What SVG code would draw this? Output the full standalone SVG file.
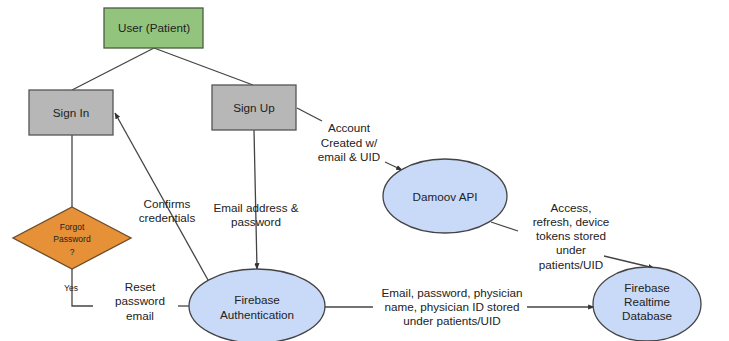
<svg xmlns="http://www.w3.org/2000/svg" width="729" height="341" viewBox="0 0 729 341">
<style>
text{font-family:"Liberation Sans",Arial,sans-serif;font-size:11.7px;fill:#222;text-anchor:middle}
.sm{font-size:8.5px}
.ln{stroke:#444;stroke-width:1.3;fill:none}
.el{fill:#c9daf8;stroke:#444;stroke-width:1.3}
.bx{fill:#b7b7b7;stroke:#555;stroke-width:1.3}
</style>
<defs>
<marker id="ah" viewBox="0 0 10 10" refX="9" refY="5" markerWidth="5" markerHeight="5" orient="auto">
<path d="M0,1 L10,5 L0,9 z" fill="#333"/>
</marker>
</defs>
<rect width="729" height="341" fill="#fff"/>
<g id="connectors">
<line class="ln" x1="154" y1="48" x2="72" y2="90"/>
<line class="ln" x1="154" y1="48" x2="253" y2="85"/>
<line class="ln" x1="72" y1="135" x2="72" y2="207"/>
<polyline class="ln" points="72,269 72,306 93,306"/>
<line class="ln" x1="178" y1="306" x2="190" y2="306"/>
<line class="ln" x1="208" y1="280" x2="115" y2="113" marker-end="url(#ah)"/>
<line class="ln" x1="254" y1="130" x2="257" y2="269" marker-end="url(#ah)"/>
<line class="ln" x1="297" y1="108" x2="322" y2="121"/>
<line class="ln" x1="385" y1="162" x2="402" y2="170" marker-end="url(#ah)"/>
<line class="ln" x1="491" y1="222" x2="518" y2="231"/>
<line class="ln" x1="604" y1="256" x2="654" y2="268" marker-end="url(#ah)"/>
<line class="ln" x1="325" y1="307" x2="373" y2="307"/>
<line class="ln" x1="527" y1="307" x2="594" y2="307" marker-end="url(#ah)"/>
<text x="140" y="291">Reset</text>
<text x="140" y="305">password</text>
<text x="140" y="320">email</text>
<text x="167" y="208">Confirms</text>
<text x="167" y="222">credentials</text>
<text x="256" y="212">Email address &amp;</text>
<text x="256" y="226">password</text>
<text x="349" y="132">Account</text>
<text x="349" y="147">Created w/</text>
<text x="349" y="161">email &amp; UID</text>
<text x="571" y="212">Access,</text>
<text x="571" y="226">refresh, device</text>
<text x="571" y="240">tokens stored</text>
<text x="571" y="254">under</text>
<text x="571" y="269">patients/UID</text>
<text x="452" y="297">Email, password, physician</text>
<text x="452" y="311">name, physician ID stored</text>
<text x="452" y="325">under patients/UID</text>
<text class="sm" x="71" y="291">Yes</text>
</g>
<g id="user">
<rect x="104" y="8" width="99" height="40" fill="#93c47d" stroke="#4a5f3f" stroke-width="1.3"/>
<text x="154" y="32">User (Patient)</text>
</g>
<g id="signin">
<rect class="bx" x="29" y="90" width="84" height="45"/>
<text x="71" y="117">Sign In</text>
</g>
<g id="signup">
<rect class="bx" x="212" y="85" width="84" height="45"/>
<text x="254" y="112">Sign Up</text>
</g>
<g id="forgot">
<polygon points="72,207 131,238 72,269 13,238" fill="#e69138" stroke="#6b4a2a" stroke-width="1.3"/>
<text class="sm" x="72" y="230">Forgot</text>
<text class="sm" x="72" y="242">Password</text>
<text class="sm" x="72" y="255">?</text>
</g>
<g id="auth">
<ellipse class="el" cx="257" cy="306" rx="68" ry="37"/>
<text x="257" y="304">Firebase</text>
<text x="257" y="319">Authentication</text>
</g>
<g id="damoov">
<ellipse class="el" cx="445" cy="196" rx="62" ry="37"/>
<text x="445" y="201">Damoov API</text>
</g>
<g id="rtdb">
<ellipse class="el" cx="647" cy="304" rx="54" ry="37"/>
<text x="647" y="292">Firebase</text>
<text x="647" y="306">Realtime</text>
<text x="647" y="320">Database</text>
</g>
</svg>
